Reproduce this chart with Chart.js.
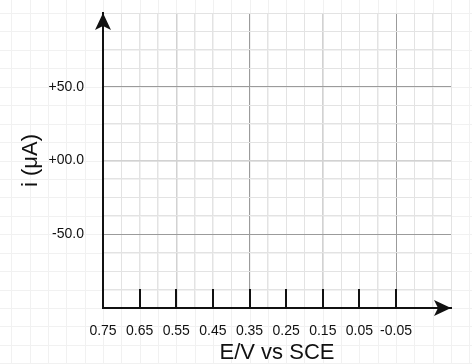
<!DOCTYPE html>
<html>
<head>
    <title>E/V vs SCE</title>
    <script src="https://cdn.jsdelivr.net/npm/chart.js@4"></script>
    <style>
        html, body { margin: 0; padding: 0; background: #fff; }
        #wrap { width: 472px; height: 364px; }
    </style>
</head>
<body>
    <div id="wrap"><canvas id="cv" width="472" height="364"></canvas></div>
    <script>
        // axis values
        var xTickValues = [0.75, 0.65, 0.55, 0.45, 0.35, 0.25, 0.15, 0.05, -0.05];
        var xTickLabels = ['0.75', '0.65', '0.55', '0.45', '0.35', '0.25', '0.15', '0.05', '-0.05'];
        var yTickValues = [50, 0, -50];
        var yTickLabels = ['+50.0', '+00.0', '-50.0'];
        var xRange = [-0.2, 0.75];
        var yRange = [-100, 100];
        var xGridStep = 0.05;
        var yGridStep = 12.5;
        // heavier grid lines
        var xDarkLines = [0.35, -0.05];
        var xMidLines = [0.55, 0.15];
        var yDarkLines = [50, -50];
        var yMidLines = [0];

        function near(a, b) { return Math.abs(a - b) < 1e-6; }
        function inList(v, list) { return list.some(function (x) { return near(x, v); }); }

        function gridTicks(min, max, step) {
            var out = [];
            var n = Math.round((max - min) / step);
            for (var i = 0; i <= n; i++) out.push({ value: +(min + i * step).toFixed(6) });
            return out;
        }

        function lineColor(v, dark, mid) {
            if (inList(v, dark)) return '#9b9b9b';
            if (inList(v, mid)) return '#d2d2d2';
            return '#e3e3e3';
        }

        // faint page grid behind everything, plus white background
        var pageGrid = {
            id: 'pageGrid',
            beforeDraw: function (chart) {
                var ctx = chart.ctx, xs = chart.scales.x, ys = chart.scales.y;
                ctx.save();
                ctx.fillStyle = '#fff';
                ctx.fillRect(0, 0, chart.width, chart.height);
                ctx.strokeStyle = '#f1f1f1';
                ctx.lineWidth = 1;
                for (var k = -12; k <= 32; k++) {
                    var px = Math.round(xs.getPixelForValue(xRange[1] - k * xGridStep)) + 0.5;
                    if (px < 0 || px > chart.width) continue;
                    ctx.beginPath(); ctx.moveTo(px, 0); ctx.lineTo(px, chart.height); ctx.stroke();
                }
                for (var j = -8; j <= 24; j++) {
                    var py = Math.round(ys.getPixelForValue(yRange[1] - j * yGridStep)) + 0.5;
                    if (py < 0 || py > chart.height) continue;
                    ctx.beginPath(); ctx.moveTo(0, py); ctx.lineTo(chart.width, py); ctx.stroke();
                }
                ctx.restore();
            }
        };

        // inner tick marks and arrow heads on the axes
        var axisMarks = {
            id: 'axisMarks',
            afterDraw: function (chart) {
                var ctx = chart.ctx, a = chart.chartArea, xs = chart.scales.x;
                ctx.save();
                ctx.strokeStyle = '#111';
                ctx.fillStyle = '#111';
                ctx.lineWidth = 2;
                xTickValues.slice(1).forEach(function (v) {
                    var px = Math.round(xs.getPixelForValue(v));
                    ctx.beginPath();
                    ctx.moveTo(px, a.bottom);
                    ctx.lineTo(px, a.bottom - 19);
                    ctx.stroke();
                });
                // up arrow
                var x0 = a.left, y0 = a.top;
                ctx.beginPath();
                ctx.moveTo(x0, y0);
                ctx.lineTo(x0 + 8, y0 + 17);
                ctx.lineTo(x0, y0 + 13);
                ctx.lineTo(x0 - 8, y0 + 17);
                ctx.closePath();
                ctx.fill();
                // right arrow
                var x1 = a.right, y1 = a.bottom;
                ctx.beginPath();
                ctx.moveTo(x1, y1);
                ctx.lineTo(x1 - 17, y1 - 8);
                ctx.lineTo(x1 - 13, y1);
                ctx.lineTo(x1 - 17, y1 + 8);
                ctx.closePath();
                ctx.fill();
                ctx.restore();
            }
        };

        var ctx = document.getElementById('cv').getContext('2d');
        var chart = new Chart(ctx, {
            type: 'scatter',
            data: { datasets: [{ data: [] }] },
            plugins: [pageGrid, axisMarks],
            options: {
                responsive: false,
                animation: false,
                layout: { padding: { top: 13, right: 21, left: 0, bottom: 0 } },
                plugins: { legend: { display: false }, tooltip: { enabled: false } },
                scales: {
                    x: {
                        type: 'linear',
                        reverse: true,
                        min: xRange[0],
                        max: xRange[1],
                        afterBuildTicks: function (s) { s.ticks = gridTicks(xRange[0], xRange[1], xGridStep); },
                        afterFit: function (s) { s.height = 56; s.paddingLeft = 0; s.paddingRight = 0; },
                        border: { display: true, color: '#111', width: 2 },
                        grid: {
                            drawTicks: false,
                            color: function (c) { return lineColor(c.tick.value, xDarkLines, xMidLines); },
                            lineWidth: function (c) { return inList(c.tick.value, xMidLines) ? 1.5 : 1; }
                        },
                        ticks: {
                            autoSkip: false,
                            maxRotation: 0,
                            padding: 15,
                            color: '#111',
                            font: { family: 'Liberation Sans', size: 14 },
                            callback: function (v) {
                                for (var i = 0; i < xTickValues.length; i++) {
                                    if (near(xTickValues[i], v)) return xTickLabels[i];
                                }
                                return '';
                            }
                        },
                        title: {
                            display: true,
                            text: 'E/V vs SCE',
                            color: '#111',
                            padding: 0,
                            font: { family: 'Liberation Sans', size: 22, lineHeight: 1 }
                        }
                    },
                    y: {
                        type: 'linear',
                        min: yRange[0],
                        max: yRange[1],
                        afterBuildTicks: function (s) { s.ticks = gridTicks(yRange[0], yRange[1], yGridStep); },
                        afterFit: function (s) { s.width = 103; s.paddingTop = 0; s.paddingBottom = 0; },
                        border: { display: true, color: '#111', width: 2 },
                        grid: {
                            drawTicks: false,
                            color: function (c) { return lineColor(c.tick.value, yDarkLines, yMidLines); },
                            lineWidth: function (c) { return inList(c.tick.value, yMidLines) ? 1.5 : 1; }
                        },
                        ticks: {
                            autoSkip: false,
                            padding: 19,
                            color: '#111',
                            font: { family: 'Liberation Sans', size: 14 },
                            callback: function (v) {
                                for (var i = 0; i < yTickValues.length; i++) {
                                    if (near(yTickValues[i], v)) return yTickLabels[i];
                                }
                                return '';
                            }
                        },
                        title: {
                            display: true,
                            text: 'i (μA)',
                            color: '#111',
                            padding: { top: 20, bottom: 0 },
                            font: { family: 'Liberation Sans', size: 22, lineHeight: 1 }
                        }
                    }
                }
            }
        });
    </script>
</body>
</html>
